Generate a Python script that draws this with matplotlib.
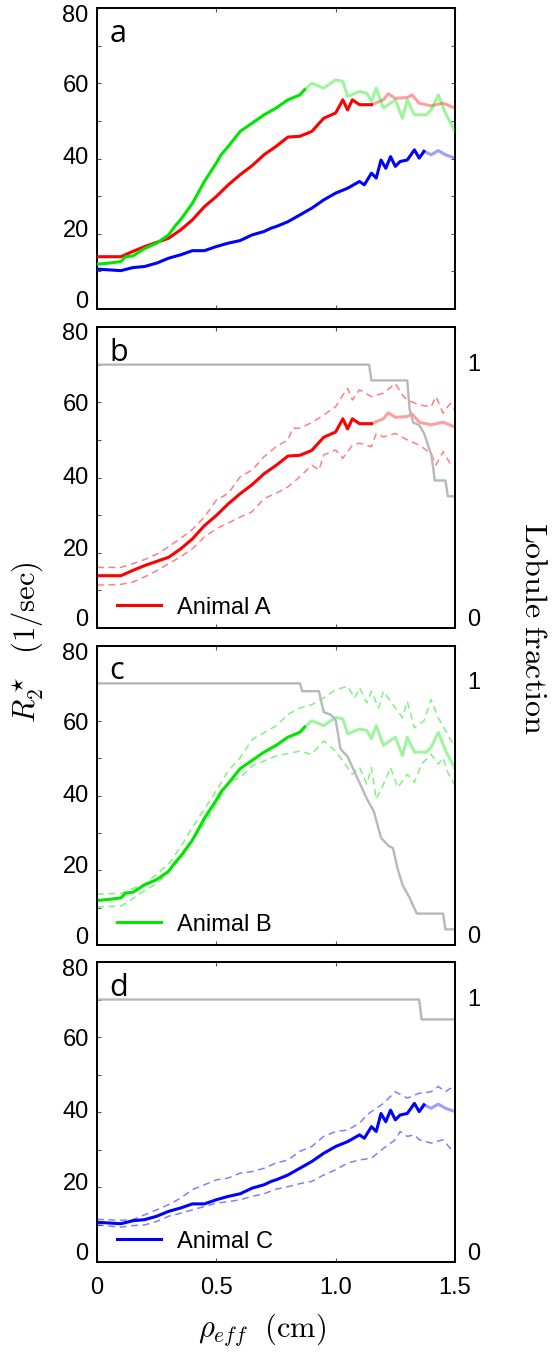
import numpy as np
import matplotlib
matplotlib.use("Agg")
import matplotlib.pyplot as plt
from matplotlib.ticker import MultipleLocator

plt.rcParams['font.family'] = ['Liberation Sans', 'DejaVu Sans']
plt.rcParams['mathtext.fontset'] = 'cm'

# ---------------------------------------------------------------- data
# Animal A (red)
xa = [0, 0.1, 0.125, 0.15, 0.2, 0.25, 0.3, 0.35, 0.4, 0.45, 0.5, 0.55, 0.6,
      0.65, 0.7, 0.75, 0.8, 0.85, 0.9, 0.95, 1.0, 1.03, 1.05, 1.07, 1.1,
      1.15, 1.2, 1.22, 1.25, 1.3, 1.32, 1.35, 1.4, 1.45, 1.5]
ya = [13.9, 13.9, 14.6, 15.3, 16.6, 17.7, 18.8, 21.0, 23.7, 27.2, 29.9, 33.0,
      35.7, 38.1, 41.0, 43.2, 45.7, 45.9, 47.2, 50.7, 52.1, 55.6, 52.9, 55.6,
      54.3, 54.3, 55.6, 57.2, 56.0, 56.2, 56.9, 54.7, 54.0, 54.7, 53.4]
cut_a = 1.15
xa_up = [0, 0.1, 0.15, 0.2, 0.25, 0.3, 0.35, 0.4, 0.45, 0.5, 0.55, 0.6, 0.65,
         0.7, 0.75, 0.8, 0.82, 0.85, 0.9, 0.95, 0.97, 1.0, 1.03, 1.05, 1.07,
         1.1, 1.15, 1.2, 1.25, 1.28, 1.3, 1.35, 1.4, 1.42, 1.45, 1.48, 1.5]
ya_up = [16.1, 16.1, 17.1, 18.2, 19.6, 21.6, 23.8, 26.2, 29.5, 34.0, 35.8,
         40.2, 42.0, 45.5, 48.2, 50.0, 53.1, 53.1, 54.6, 56.6, 57.5, 58.8,
         61.9, 63.7, 60.6, 63.3, 61.5, 62.4, 65.0, 61.9, 60.6, 59.3, 58.8,
         61.5, 57.1, 59.7, 57.9]
xa_lo = [0, 0.1, 0.15, 0.2, 0.25, 0.3, 0.35, 0.4, 0.45, 0.5, 0.55, 0.6, 0.65,
         0.7, 0.75, 0.8, 0.85, 0.9, 0.93, 0.95, 1.0, 1.03, 1.07, 1.1, 1.15,
         1.17, 1.2, 1.25, 1.3, 1.35, 1.4, 1.42, 1.45, 1.48, 1.5]
ya_lo = [11.4, 11.6, 12.2, 13.6, 15.2, 17.1, 18.9, 21.1, 24.2, 26.4, 27.9,
         29.5, 30.9, 34.4, 35.8, 37.5, 40.2, 43.3, 42.0, 46.0, 47.3, 45.1,
         48.6, 49.1, 48.2, 51.7, 50.8, 51.7, 50.0, 48.6, 46.4, 43.3, 46.9,
         43.7, 44.2]
xa_lob = [0, 1.14, 1.15, 1.30, 1.31, 1.325, 1.35, 1.37, 1.40, 1.41, 1.415,
          1.46, 1.47, 1.5]
fa_lob = [1.0, 1.0, 0.94, 0.94, 0.83, 0.78, 0.77, 0.74, 0.66, 0.60, 0.56,
          0.56, 0.50, 0.50]

# Animal B (green)
xb = [0, 0.05, 0.1, 0.12, 0.15, 0.2, 0.25, 0.3, 0.33, 0.35, 0.4, 0.45, 0.5,
      0.52, 0.55, 0.6, 0.65, 0.7, 0.75, 0.8, 0.85, 0.87, 0.9, 0.95, 1.0,
      1.03, 1.05, 1.1, 1.13, 1.15, 1.17, 1.2, 1.25, 1.28, 1.3, 1.33, 1.38,
      1.4, 1.43, 1.46, 1.5]
yb = [11.9, 12.2, 12.6, 13.9, 14.1, 16.1, 17.5, 19.7, 22.3, 23.7, 28.1, 33.9,
      38.8, 41.0, 43.2, 47.2, 49.4, 51.6, 53.4, 55.6, 56.9, 58.3, 60.0, 58.7,
      60.9, 60.5, 56.5, 57.8, 57.4, 55.2, 58.7, 53.4, 55.6, 50.7, 55.6, 51.6,
      51.6, 52.9, 56.9, 52.1, 47.2]
cut_b = 0.87
xb_up = [0, 0.1, 0.15, 0.2, 0.25, 0.3, 0.35, 0.4, 0.45, 0.5, 0.55, 0.6, 0.65,
         0.7, 0.75, 0.8, 0.85, 0.9, 0.95, 1.0, 1.05, 1.08, 1.1, 1.13, 1.15,
         1.18, 1.2, 1.25, 1.28, 1.3, 1.33, 1.37, 1.4, 1.43, 1.47, 1.5]
yb_up = [13.6, 13.8, 15.1, 16.4, 18.9, 21.7, 26.2, 31.5, 36.4, 41.3, 46.6,
         50.1, 55.0, 56.8, 58.6, 61.7, 63.4, 64.3, 66.1, 68.3, 69.2, 66.1,
         68.8, 64.8, 67.9, 63.4, 67.9, 63.4, 60.8, 65.2, 58.1, 60.0, 65.7,
         60.8, 56.3, 52.8]
xb_lo = [0, 0.1, 0.15, 0.2, 0.25, 0.3, 0.35, 0.4, 0.45, 0.5, 0.55, 0.6, 0.65,
         0.7, 0.75, 0.8, 0.85, 0.9, 0.95, 1.0, 1.03, 1.07, 1.1, 1.13, 1.15,
         1.17, 1.2, 1.23, 1.26, 1.3, 1.33, 1.36, 1.4, 1.43, 1.45, 1.47, 1.5]
yb_lo = [10.2, 10.4, 12.4, 14.6, 16.4, 19.5, 23.1, 28.0, 32.4, 37.7, 43.5,
         44.8, 47.9, 49.2, 50.6, 51.2, 51.9, 51.0, 54.6, 51.9, 49.2, 45.7,
         47.5, 43.0, 47.5, 39.0, 43.0, 47.5, 42.1, 45.7, 43.5, 48.4, 51.0,
         48.4, 50.1, 46.1, 42.6]
xb_lob = [0, 0.85, 0.86, 0.93, 0.95, 0.98, 1.0, 1.02, 1.05, 1.07, 1.09, 1.13,
          1.16, 1.19, 1.22, 1.24, 1.26, 1.28, 1.31, 1.34, 1.45, 1.46, 1.5]
fb_lob = [1.0, 1.0, 0.97, 0.97, 0.89, 0.88, 0.86, 0.75, 0.72, 0.68, 0.64,
          0.56, 0.51, 0.41, 0.38, 0.37, 0.29, 0.23, 0.18, 0.12, 0.12, 0.06,
          0.06]

# Animal C (blue)
xc = [0, 0.1, 0.15, 0.2, 0.25, 0.3, 0.35, 0.4, 0.45, 0.5, 0.55, 0.6, 0.65,
      0.7, 0.73, 0.75, 0.8, 0.85, 0.9, 0.95, 1.0, 1.05, 1.1, 1.12, 1.15, 1.17,
      1.19, 1.21, 1.23, 1.25, 1.27, 1.3, 1.33, 1.35, 1.37, 1.4, 1.43, 1.46,
      1.5]
yc = [10.6, 10.2, 11.0, 11.3, 12.2, 13.5, 14.4, 15.5, 15.5, 16.6, 17.5, 18.2,
      19.7, 20.6, 21.5, 21.9, 23.2, 25.0, 26.8, 29.0, 30.8, 32.1, 33.9, 33.0,
      36.1, 34.8, 39.6, 37.4, 40.5, 37.9, 39.2, 39.6, 42.3, 40.1, 41.9, 41.0,
      42.1, 41.0, 40.1]
cut_c = 1.37
xc_up = [0, 0.1, 0.15, 0.2, 0.25, 0.3, 0.35, 0.4, 0.45, 0.5, 0.55, 0.6, 0.65,
         0.7, 0.75, 0.8, 0.85, 0.9, 0.95, 1.0, 1.05, 1.1, 1.13, 1.15, 1.2,
         1.25, 1.3, 1.35, 1.4, 1.43, 1.46, 1.48, 1.5]
yc_up = [11.4, 11.1, 11.3, 12.6, 13.9, 15.3, 17.0, 19.3, 20.6, 21.9, 22.4,
         23.7, 24.1, 25.0, 26.4, 27.2, 29.5, 30.8, 33.5, 34.8, 35.2, 37.0,
         39.2, 40.1, 42.3, 45.4, 43.7, 45.0, 45.4, 46.8, 45.4, 46.3, 45.9]
xc_lo = [0, 0.1, 0.15, 0.2, 0.25, 0.3, 0.35, 0.4, 0.45, 0.5, 0.55, 0.6, 0.65,
         0.7, 0.75, 0.8, 0.85, 0.9, 0.95, 1.0, 1.05, 1.1, 1.15, 1.2, 1.25,
         1.27, 1.3, 1.33, 1.35, 1.4, 1.45, 1.48, 1.5]
yc_lo = [9.9, 9.3, 9.7, 9.9, 10.8, 12.2, 13.0, 13.9, 14.8, 15.7, 16.1, 16.6,
         17.5, 18.2, 19.4, 20.1, 20.9, 21.5, 23.2, 24.6, 26.4, 27.2, 27.7,
         30.3, 32.6, 34.8, 33.5, 33.9, 32.6, 31.7, 32.6, 30.3, 31.7]
xc_lob = [0, 1.35, 1.36, 1.5]
fc_lob = [1.0, 1.0, 0.924, 0.924]

animals = ["Animal A", "Animal B", "Animal C"]
colors = ["#ff0000", "#00e600", "#0000ff"]
letters = ["a", "b", "c", "d"]
xticks = [0, 0.5, 1.0, 1.5]
xticklabels = ["0", "0.5", "1.0", "1.5"]
yticks = [0, 20, 40, 60, 80]
# the tick numbers sit a little toward the middle of each panel (pixels)
ylabel_shift = [7.5, 3, 0, -3, -7.5]

means = [(xa, ya, cut_a), (xb, yb, cut_b), (xc, yc, cut_c)]
uppers = [(xa_up, ya_up), (xb_up, yb_up), (xc_up, yc_up)]
lowers = [(xa_lo, ya_lo), (xb_lo, yb_lo), (xc_lo, yc_lo)]
lobules = [(xa_lob, fa_lob), (xb_lob, fb_lob), (xc_lob, fc_lob)]

# ---------------------------------------------------------------- figure
W, H = 558, 1353
fig = plt.figure(figsize=(W / 100, H / 100), dpi=100)
boxes = [(8, 309), (327, 628), (646, 945), (962, 1262)]  # top, bottom px
L, R = 97, 455
px = 0.72  # points per pixel
fs = 17


def mean_line(ax, x, y, cut, c):
    x = np.asarray(x)
    y = np.asarray(y)
    k = np.searchsorted(x, cut) + 1
    ax.plot(x[:k], y[:k], color=c, lw=2.2, zorder=4)
    ax.plot(x[k - 1:], y[k - 1:], color=c, lw=2.2, alpha=0.38, zorder=3)


axes = []
for i, (t, b) in enumerate(boxes):
    ax = fig.add_axes([L / W, 1 - b / H, (R - L) / W, (b - t) / H])
    ax.set_xlim(0, 1.5)
    ax.set_ylim(0, 80)
    ax.set_xticks(xticks)
    ax.set_yticks(yticks)
    ax.set_yticklabels([])
    ax.yaxis.set_minor_locator(MultipleLocator(10))
    ax.tick_params(which='both', direction='in', top=True, right=True,
                   length=3, width=0.8, color='#555555', labelsize=fs)
    if i == 3:
        ax.set_xticklabels(xticklabels)
        ax.tick_params(axis='x', pad=11)
    else:
        ax.set_xticklabels([])
    for v, dy in zip(yticks, ylabel_shift):
        ax.annotate(str(v), (0, v), xycoords=('axes fraction', 'data'),
                    xytext=(-6, dy * px), textcoords='offset points',
                    ha='right', va='center', fontsize=fs)
    for s in ax.spines.values():
        s.set_linewidth(1.4)
    ax.text(0.035, 0.965, letters[i], transform=ax.transAxes, ha='left',
            va='top', fontsize=22, family='Open Sans', zorder=6)
    axes.append(ax)

# panel a: the three means together
for (x, y, cut), c in zip(means, colors):
    mean_line(axes[0], x, y, cut, c)

# panels b-d: one animal each with spread and lobule fraction
for j in range(3):
    ax = axes[j + 1]
    c = colors[j]
    x, y, cut = means[j]
    mean_line(ax, x, y, cut, c)
    ax.plot(*uppers[j], color=c, lw=1.1, alpha=0.5, dashes=(4.5, 3))
    ax.plot(*lowers[j], color=c, lw=1.1, alpha=0.5, dashes=(4.5, 3))
    ax.legend([plt.Line2D([], [], color=c, lw=2.2)], [animals[j]],
              loc='center left', bbox_to_anchor=(0.056, 0.068),
              frameon=False, fontsize=fs, handlelength=1.85,
              handletextpad=0.7, borderpad=0, borderaxespad=0)

    ax2 = ax.twinx()
    ax2.set_ylim(0, 80 / 70)
    ax2.set_yticks([0, 1])
    ax2.set_yticklabels([])
    ax2.tick_params(length=0)
    for v, dy in zip([0, 1], [8, 0]):
        ax2.annotate(str(v), (1, v), xycoords=('axes fraction', 'data'),
                     xytext=(9, dy * px), textcoords='offset points',
                     ha='left', va='center', fontsize=fs)
    ax2.plot(*lobules[j], color='#b8b8b8', lw=1.7, zorder=2)
    for s in ax2.spines.values():
        s.set_linewidth(1.4)

fig.text(28 / W, 1 - 642 / H, r'$R_2^\star\ \ (\mathrm{1/sec})$',
         rotation=90, ha='center', va='center', fontsize=22)
fig.text(533 / W, 1 - 628 / H, r'$\mathrm{Lobule\ fraction}$',
         rotation=270, ha='center', va='center', fontsize=23)
fig.text(262 / W, 1 - 1330 / H, r'$\rho_{eff}\ \ (\mathrm{cm})$',
         ha='center', va='center', fontsize=22)

fig.savefig("out.png", dpi=100)
